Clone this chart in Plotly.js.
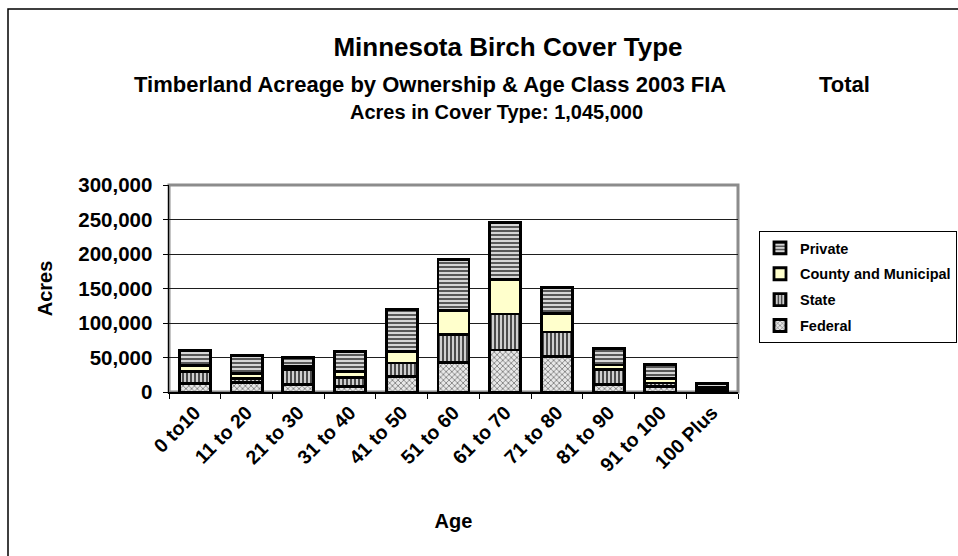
<!DOCTYPE html>
<html>
<head>
<meta charset="utf-8">
<script src="https://cdn.plot.ly/plotly-3.0.1.min.js"></script>
<style>
  html, body { margin: 0; padding: 0; background: #fff; }
  #chart { width: 958px; height: 556px; }
</style>
</head>
<body>
<div id="chart"></div>
<script>
// ---- Data (acres) ----
var ageClasses = ["0 to10", "11 to 20", "21 to 30", "31 to 40", "41 to 50", "51 to 60", "61 to 70", "71 to 80", "81 to 90", "91 to 100", "100 Plus"];
var federal = [12000, 13500, 11000, 8500, 22000, 43000, 61000, 51000, 11000, 8000, 3000];
var state   = [18000, 6000, 21500, 13000, 20000, 40000, 52000, 36000, 22000, 5000, 2000];
var county  = [8000, 7000, 4000, 8000, 17000, 35000, 50000, 27000, 6000, 7000, 1000];
var privateOwn = [22000, 26500, 14000, 29500, 61000, 74000, 83000, 37000, 24000, 20000, 6000];
var yTicks = [0, 50000, 100000, 150000, 200000, 250000, 300000];

var FONT = "Liberation Sans, Arial, sans-serif";
var outline = { color: "#000000", width: 2.8 };

function barTrace(name, values, marker, group, rank) {
  return {
    type: "bar",
    name: name,
    x: ageClasses,
    y: values,
    legendgroup: group,
    legendrank: rank,
    marker: Object.assign({ line: outline }, marker),
    hoverinfo: "x+y+name"
  };
}

var traces = [
  barTrace("Federal", federal, {
    color: "#e6e6e6",
    pattern: { shape: "x", fgcolor: "#5a5a5a", bgcolor: "#e8e8e8", size: 4, solidity: 0.3, fillmode: "replace" }
  }, "g1", 4),
  barTrace("State", state, {
    color: "#c8c8c8",
    pattern: { shape: "|", fgcolor: "#3c3c3c", bgcolor: "#cfcfcf", size: 4, solidity: 0.45, fillmode: "replace" }
  }, "g2", 3),
  barTrace("County and Municipal", county, { color: "#ffffcc" }, "g3", 2),
  barTrace("Private", privateOwn, {
    color: "#bdbdbd",
    pattern: { shape: "-", fgcolor: "#4a4a4a", bgcolor: "#d6d6d6", size: 4, solidity: 0.45, fillmode: "replace" }
  }, "g4", 1)
];

// plot area in pixels: x 169..738, y 185..392
var W = 958, H = 556;
var L = 169, R = 738, T = 185, B = 392;
function px(xp) { return (xp - L) / (R - L); }
function py(yp) { return (B - yp) / (B - T); }

var layout = {
  width: W,
  height: H,
  margin: { l: L, r: W - R, t: T, b: H - B, pad: 0 },
  paper_bgcolor: "#ffffff",
  plot_bgcolor: "#ffffff",
  barmode: "stack",
  bargap: 0.4,
  showlegend: true,
  font: { family: FONT, color: "#000000" },
  title: {
    text: "<b>Minnesota Birch Cover Type</b>",
    font: { family: FONT, size: 26, color: "#000" },
    xref: "paper", x: px(508), xanchor: "center",
    yref: "container", y: 1 - 47 / H, yanchor: "middle"
  },
  xaxis: {
    type: "category",
    tickangle: -45,
    tickson: "boundaries",
    ticks: "outside",
    ticklen: 5,
    tickcolor: "#000",
    tickwidth: 1,
    showline: true,
    linecolor: "#000",
    linewidth: 1.5,
    showgrid: false,
    tickfont: { family: FONT, size: 19.5, color: "#000", weight: "bold" },
    title: { text: "<b>Age</b>", font: { family: FONT, size: 20, color: "#000" }, standoff: 39 }
  },
  yaxis: {
    range: [0, 300000],
    tickvals: yTicks,
    tickformat: ",",
    ticks: "outside",
    ticklen: 5,
    tickcolor: "#000",
    showline: true,
    linecolor: "#000",
    linewidth: 1.5,
    showgrid: true,
    gridcolor: "#1e1e1e",
    gridwidth: 1,
    zeroline: false,
    ticklabelstandoff: 6,
    tickfont: { family: FONT, size: 20.5, color: "#000", weight: "bold" },
    title: { text: "<b>Acres</b>", font: { family: FONT, size: 20, color: "#000" }, standoff: 20 }
  },
  legend: {
    xref: "container",
    x: 759 / W, xanchor: "left",
    yref: "paper",
    y: py(231), yanchor: "top",
    bgcolor: "#ffffff",
    bordercolor: "#000000",
    borderwidth: 1,
    traceorder: "grouped",
    tracegroupgap: 4,
    itemwidth: 30,
    font: { family: FONT, size: 14.5, color: "#000", weight: "bold" }
  },
  annotations: [
    {
      text: "<b>Timberland Acreage by Ownership & Age Class 2003 FIA</b>",
      xref: "paper", yref: "paper", x: px(430), y: py(84),
      xanchor: "center", yanchor: "middle", showarrow: false,
      font: { family: FONT, size: 22, color: "#000" }
    },
    {
      text: "<b>Total</b>",
      xref: "paper", yref: "paper", x: px(844), y: py(84),
      xanchor: "center", yanchor: "middle", showarrow: false,
      font: { family: FONT, size: 22, color: "#000" }
    },
    {
      text: "<b>Acres in Cover Type: 1,045,000</b>",
      xref: "paper", yref: "paper", x: px(497), y: py(112),
      xanchor: "center", yanchor: "middle", showarrow: false,
      font: { family: FONT, size: 20, color: "#000" }
    }
  ],
  shapes: [
    // outer chart frame
    { type: "rect", xref: "paper", yref: "paper", x0: px(8), x1: px(1000), y0: py(600), y1: py(9),
      line: { color: "#000", width: 1.5 }, fillcolor: "rgba(0,0,0,0)", layer: "below" },
    // plot area border (grey)
    { type: "rect", xref: "paper", yref: "paper", x0: 0, x1: 1, y0: 0, y1: 1,
      line: { color: "#8c8c8c", width: 3 }, fillcolor: "rgba(0,0,0,0)", layer: "below" }
  ]
};

Plotly.newPlot("chart", traces, layout, { displayModeBar: false, staticPlot: true });
</script>
</body>
</html>
